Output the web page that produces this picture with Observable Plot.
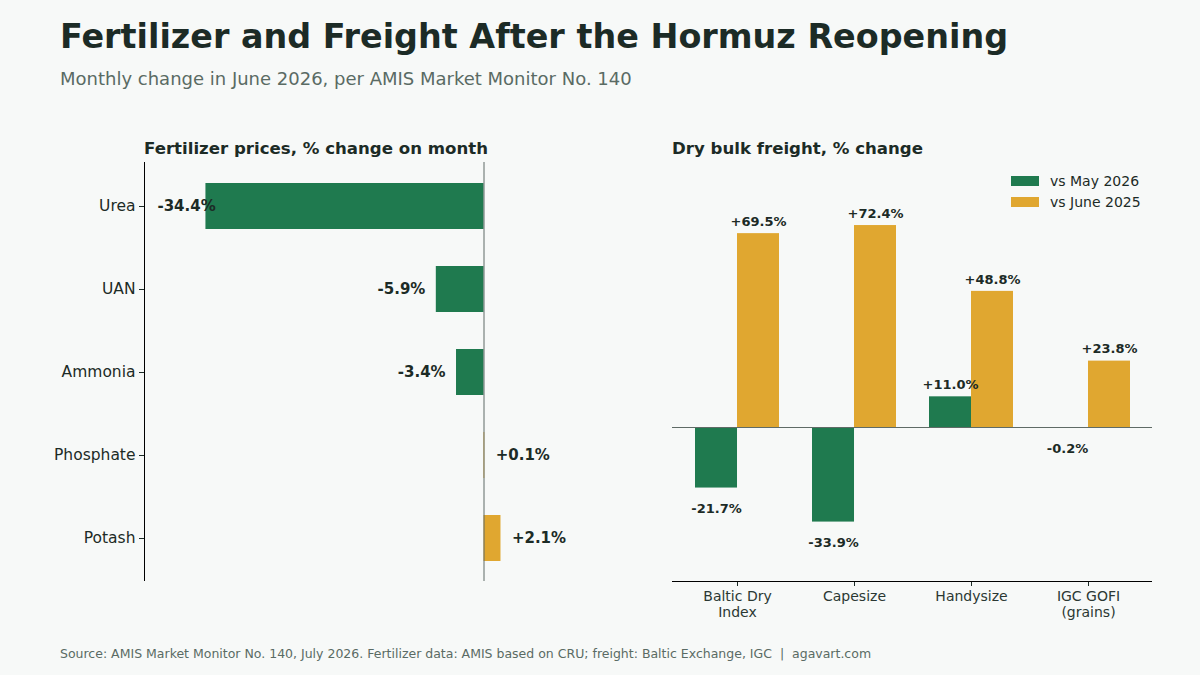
<!DOCTYPE html>
<html>
<head>
<meta charset="utf-8">
<script src="https://cdn.jsdelivr.net/npm/d3@7"></script>
<script src="https://cdn.jsdelivr.net/npm/@observablehq/plot@0.6"></script>
<style>
  html, body { margin: 0; padding: 0; background: #f7f9f8; }
  body { width: 1200px; height: 675px; position: relative; overflow: hidden; font-family: "DejaVu Sans", sans-serif; }
  .abs { position: absolute; white-space: nowrap; line-height: 1; }
  #title { left: 60px; top: 20px; font-size: 33.4px; font-weight: bold; color: #1c2b26; }
  #subtitle { left: 60px; top: 70px; font-size: 18px; color: #5a6b64; }
  .ptitle { top: 141px; font-size: 16.6px; font-weight: bold; color: #1c2b26; }
  #source { left: 60px; top: 648px; font-size: 12.5px; color: #5a6b64; }
  #left { left: 0px; top: 110px; }
  #right { left: 630px; top: 110px; }
  .legend { left: 1011px; font-size: 14px; color: #1c2b26; display: flex; align-items: center; }
  .legend span.sw { display: inline-block; width: 28px; height: 10px; margin-right: 11px; }
</style>
</head>
<body>
<div id="title" class="abs">Fertilizer and Freight After the Hormuz Reopening</div>
<div id="subtitle" class="abs">Monthly change in June 2026, per AMIS Market Monitor No. 140</div>
<div class="abs ptitle" style="left:144px">Fertilizer prices, % change on month</div>
<div class="abs ptitle" style="left:672px">Dry bulk freight, % change</div>
<div id="left" class="abs"></div>
<div id="right" class="abs"></div>
<div class="abs legend" style="top:174px"><span class="sw" style="background:#1f7a4f"></span>vs May 2026</div>
<div class="abs legend" style="top:195px"><span class="sw" style="background:#e0a730"></span>vs June 2025</div>
<div id="source" class="abs">Source: AMIS Market Monitor No. 140, July 2026. Fertilizer data: AMIS based on CRU; freight: Baltic Exchange, IGC&nbsp; |&nbsp; agavart.com</div>
<script>
// ---- Data ----
const fertCategories = ["Urea", "UAN", "Ammonia", "Phosphate", "Potash"];
const fertChange = [-34.4, -5.9, -3.4, 0.1, 2.1];

const freightCategories = ["Baltic Dry\nIndex", "Capesize", "Handysize", "IGC GOFI\n(grains)"];
const freightSeries = ["vs May 2026", "vs June 2025"];
const freightVsMay = [-21.7, -33.9, 11.0, -0.2];
const freightVsJune = [69.5, 72.4, 48.8, 23.8];

// ---- Styles ----
const GREEN = "#1f7a4f", ORANGE = "#e0a730", INK = "#1c2b26";
const fmt = v => (v >= 0 ? "+" : "") + v.toFixed(1) + "%";

// ---- Left panel ----
const fert = fertCategories.map((c, i) => ({cat: c, v: fertChange[i]}));
const xMinL = -42, xMaxL = 18;
const leftLabels = fert.map(d => {
  if (d.v >= 0) return {...d, x: d.v + 1.35, anchor: "start"};
  const tentative = d.v - 1.35;
  // clamp labels that would run off the left edge
  if (tentative - 7.5 < xMinL) return {...d, x: xMinL + 1.6, anchor: "start"};
  return {...d, x: tentative, anchor: "end"};
});

const left = Plot.plot({
  width: 630, height: 471,
  marginLeft: 144, marginRight: 1, marginTop: 52, marginBottom: 0,
  style: {background: "transparent", fontFamily: "DejaVu Sans, sans-serif", color: INK},
  x: {domain: [xMinL, xMaxL], axis: null},
  y: {domain: fertCategories, paddingInner: 0.45, paddingOuter: 0.225, label: null},
  marks: [
    Plot.axisY({tickSize: 5, tickPadding: 4, fontSize: 15.5, label: null, stroke: INK, color: INK}),
    Plot.barX(fert, {y: "cat", x: "v", fill: d => d.v < 0 ? GREEN : ORANGE}),
    Plot.ruleX([0], {stroke: "#5f6b66", strokeWidth: 1}),
    Plot.ruleX([xMinL], {stroke: "#000", strokeWidth: 1}),
    Plot.text(leftLabels.filter(d => d.anchor === "end"), {y: "cat", x: "x", text: d => fmt(d.v), textAnchor: "end", fontSize: 15, fontWeight: "bold", fill: INK}),
    Plot.text(leftLabels.filter(d => d.anchor === "start"), {y: "cat", x: "x", text: d => fmt(d.v), textAnchor: "start", fontSize: 15, fontWeight: "bold", fill: INK})
  ]
});
document.getElementById("left").appendChild(left);

// ---- Right panel ----
const freight = [];
freightCategories.forEach((c, i) => {
  freight.push({cat: c, series: freightSeries[0], v: freightVsMay[i]});
  freight.push({cat: c, series: freightSeries[1], v: freightVsJune[i]});
});
const yMinR = -55.2, yMaxR = 95;
const rW = 570, rML = 42, rMR = 48;
const pIn = 0.284, pOut = 0.188;
const step = (rW - rML - rMR) / (freightCategories.length - pIn + 2 * pOut);
const bw = step * (1 - pIn);
const half = bw / 2;

const labelOpts = {x: "cat", y: "v", text: d => fmt(d.v), fontSize: 13, fontWeight: "bold", fill: INK};

const right = Plot.plot({
  width: rW, height: 520,
  marginLeft: rML, marginRight: rMR, marginTop: 52, marginBottom: 49,
  style: {background: "transparent", fontFamily: "DejaVu Sans, sans-serif", color: INK},
  x: {domain: freightCategories, paddingInner: pIn, paddingOuter: pOut, label: null},
  y: {domain: [yMinR, yMaxR], axis: null},
  color: {domain: freightSeries, range: [GREEN, ORANGE]},
  marks: [
    Plot.axisX({tickSize: 5, tickPadding: 3, fontSize: 14, label: null, stroke: INK, color: "#2b3833", lineHeight: 1.15}),
    Plot.barY(freight.filter(d => d.series === freightSeries[0]), {x: "cat", y: "v", fill: "series", insetRight: half}),
    Plot.barY(freight.filter(d => d.series === freightSeries[1]), {x: "cat", y: "v", fill: "series", insetLeft: half}),
    Plot.ruleY([0], {stroke: "#5f6b66", strokeWidth: 1}),
    Plot.ruleY([yMinR], {stroke: "#000", strokeWidth: 1}),
    Plot.text(freight.filter(d => d.v >= 0 && d.series === freightSeries[0]), {...labelOpts, dx: -half / 2, dy: -12}),
    Plot.text(freight.filter(d => d.v >= 0 && d.series === freightSeries[1]), {...labelOpts, dx: half / 2, dy: -12}),
    Plot.text(freight.filter(d => d.v < 0 && d.series === freightSeries[0]), {...labelOpts, dx: -half / 2, dy: 21}),
    Plot.text(freight.filter(d => d.v < 0 && d.series === freightSeries[1]), {...labelOpts, dx: half / 2, dy: 21})
  ]
});
document.getElementById("right").appendChild(right);
</script>
</body>
</html>
